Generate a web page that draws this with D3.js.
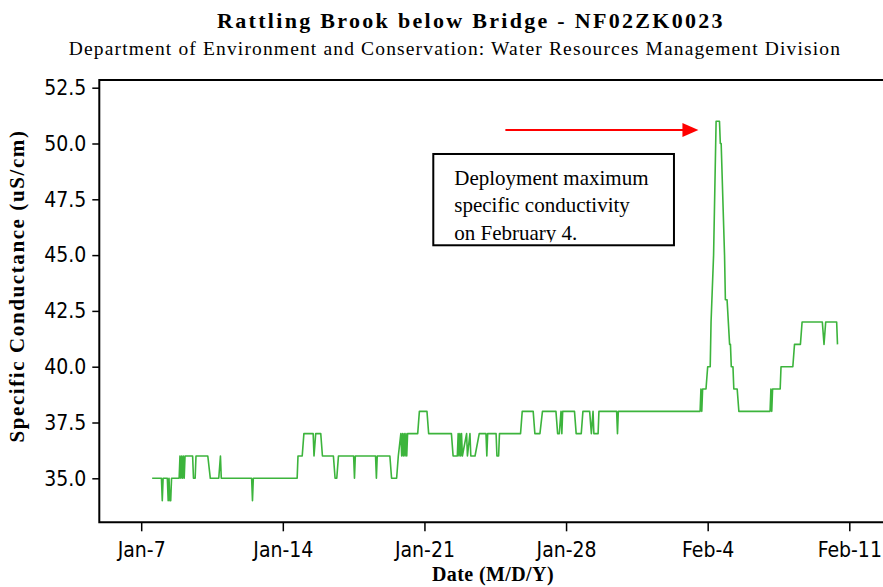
<!DOCTYPE html>
<html>
<head>
<meta charset="utf-8">
<script src="https://cdn.jsdelivr.net/npm/d3@7"></script>
<style>
	body { margin: 0; background: #fff; }
</style>
</head>
<body>
<div id="chart-area"></div>
<script>
// Hourly readings (only the hours where the trace changes), year taken as 2014
var readTimes = [
	"01-07 13:00", "01-08 00:00", "01-08 01:00", "01-08 02:00",
	"01-08 07:00", "01-08 08:00", "01-08 09:00", "01-08 10:00", "01-08 11:00", "01-08 12:00",
	"01-08 21:00", "01-08 22:00", "01-08 23:00", "01-09 00:00", "01-09 01:00", "01-09 02:00", "01-09 03:00", "01-09 04:00",
	"01-09 13:00", "01-09 14:00", "01-09 16:00", "01-09 17:00",
	"01-10 07:00", "01-10 10:00",
	"01-10 20:00", "01-10 22:00", "01-10 23:00",
	"01-12 11:00", "01-12 12:00", "01-12 13:00",
	"01-14 17:00", "01-14 18:00",
	"01-14 23:00", "01-15 01:00",
	"01-15 12:00", "01-15 13:00", "01-15 15:00",
	"01-15 21:00", "01-15 23:00",
	"01-16 12:00", "01-16 14:00", "01-16 16:00", "01-16 18:00",
	"01-17 12:00", "01-17 13:00", "01-17 14:00",
	"01-18 14:00", "01-18 15:00", "01-18 16:00",
	"01-19 07:00", "01-19 09:00",
	"01-19 15:00", "01-19 17:00", "01-19 20:00",
	"01-19 21:00", "01-19 22:00", "01-19 23:00", "01-20 00:00", "01-20 01:00", "01-20 02:00", "01-20 03:00", "01-20 04:00",
	"01-20 16:00", "01-20 18:00",
	"01-21 03:00", "01-21 05:00",
	"01-22 08:00", "01-22 10:00",
	"01-22 15:00", "01-22 16:00", "01-22 17:00", "01-22 18:00", "01-22 19:00", "01-22 20:00", "01-22 21:00",
	"01-23 02:00", "01-23 03:00", "01-23 06:00", "01-23 07:00",
	"01-23 12:00", "01-23 17:00",
	"01-24 01:00", "01-24 02:00", "01-24 03:00",
	"01-24 13:00", "01-24 14:00", "01-24 16:00", "01-24 17:00",
	"01-25 18:00", "01-25 20:00",
	"01-26 09:00", "01-26 11:00", "01-26 17:00", "01-26 20:00",
	"01-27 12:00", "01-27 14:00", "01-27 16:00", "01-27 18:00", "01-27 19:00", "01-27 20:00",
	"01-28 10:00", "01-28 12:00", "01-28 18:00", "01-28 20:00",
	"01-29 04:00", "01-29 06:00", "01-29 08:00", "01-29 09:00", "01-29 14:00", "01-29 15:00",
	"01-30 12:00", "01-30 13:00", "01-30 14:00",
	"02-03 15:00", "02-03 16:00", "02-03 17:00", "02-03 18:00",
	"02-03 22:00", "02-04 00:00",
	"02-04 03:00", "02-04 04:00", "02-04 07:00", "02-04 10:00", "02-04 14:00",
	"02-04 15:00", "02-04 16:00", "02-04 20:00", "02-04 21:00", "02-04 23:00",
	"02-05 02:00", "02-05 03:00", "02-05 04:00", "02-05 06:00", "02-05 07:00", "02-05 11:00", "02-05 13:00",
	"02-07 02:00", "02-07 03:00", "02-07 04:00", "02-07 05:00",
	"02-07 14:00", "02-07 15:00",
	"02-08 05:00", "02-08 07:00",
	"02-08 14:00", "02-08 16:00",
	"02-09 16:00", "02-09 18:00", "02-09 20:00",
	"02-10 09:00", "02-10 10:00"
];

// Specific conductance (uS/cm), same order as readTimes
var readValues = [
	35, 35, 34, 35,
	35, 34, 35, 34, 34, 35,
	35, 36, 35, 36, 35, 36, 35, 36,
	36, 35, 35, 36,
	36, 35,
	35, 36, 35,
	35, 34, 35,
	35, 36,
	36, 37,
	37, 36, 37,
	37, 36,
	36, 35, 35, 36,
	36, 35, 36,
	36, 35, 36,
	36, 35,
	35, 36, 37,
	36, 37, 36, 37, 36, 37, 36, 37,
	37, 38,
	38, 37,
	37, 36,
	36, 37, 36, 37, 36, 37, 36,
	37, 36, 37, 36,
	36, 37,
	37, 36, 37,
	37, 36, 36, 37,
	37, 38,
	38, 37, 37, 38,
	38, 37, 37, 38, 37, 38,
	38, 37, 37, 38,
	38, 37, 38, 37, 37, 38,
	38, 37, 38,
	38, 39, 38, 39,
	39, 40,
	40, 42, 45, 51, 51,
	50, 50, 45, 43, 43,
	41, 41, 40, 40, 39, 39, 38,
	38, 39, 38, 39,
	39, 40,
	40, 41,
	41, 42,
	42, 41, 42,
	42, 41
];

// Axis ticks
var xTicks = ["01-07 00:00", "01-14 00:00", "01-21 00:00", "01-28 00:00", "02-04 00:00", "02-11 00:00"];
var yTicks = [35.0, 37.5, 40.0, 42.5, 45.0, 47.5, 50.0, 52.5];

// Annotation (in data units)
var noteLines = ["Deployment maximum", "specific conductivity", "on February 4."];
var noteBox = {from: "01-21 10:30", to: "02-02 08:00", top: 49.53, bottom: 45.44};
var arrowAt = {from: "01-25 00:00", to: "02-03 13:00", value: 50.6};

var parseT = function(s) { return d3.timeParse("%Y-%m-%d %H:%M")("2014-" + s); };

// Canvas
var canvasWidth = 883;
var canvasHeight = 587;

// Plot frame (right side runs off the canvas)
var frame = {left: 99.3, top: 80, right: 900, bottom: 522.3};

var svg = d3.select("#chart-area")
	.append("svg")
	.attr("width", canvasWidth)
	.attr("height", canvasHeight);

// Scales
var x = d3.scaleTime()
	.domain([parseT(xTicks[0]), parseT(xTicks[xTicks.length - 1])])
	.range([141.2, 849.3]);

var y = d3.scaleLinear()
	.domain([35, 52.5])
	.range([478.3, 87.7]);

// Titles
svg.append("text")
	.attr("x", 471)
	.attr("y", 28)
	.attr("text-anchor", "middle")
	.attr("font-family", "Liberation Serif")
	.attr("font-weight", "bold")
	.attr("font-size", "22px")
	.attr("letter-spacing", "2.3px")
	.text("Rattling Brook below Bridge - NF02ZK0023");

svg.append("text")
	.attr("x", 455)
	.attr("y", 55)
	.attr("text-anchor", "middle")
	.attr("font-family", "Liberation Serif")
	.attr("font-size", "19.5px")
	.attr("letter-spacing", "1.15px")
	.text("Department of Environment and Conservation: Water Resources Management Division");

// Frame
svg.append("path")
	.attr("d", "M" + frame.right + "," + frame.top + "H" + frame.left + "V" + frame.bottom + "H" + frame.right)
	.attr("fill", "none")
	.attr("stroke", "#000")
	.attr("stroke-width", 2);

// X axis
var xAxis = svg.append("g")
	.attr("transform", "translate(0," + frame.bottom + ")")
	.call(d3.axisBottom(x)
		.tickValues(xTicks.map(parseT))
		.tickFormat(d3.timeFormat("%b-%-d"))
		.tickSize(9)
		.tickPadding(11));
xAxis.select(".domain").remove();

// Y axis
var yAxis = svg.append("g")
	.attr("transform", "translate(" + frame.left + ",0)")
	.call(d3.axisLeft(y)
		.tickValues(yTicks)
		.tickFormat(d3.format(".1f"))
		.tickSize(7)
		.tickPadding(6));
yAxis.select(".domain").remove();

svg.selectAll(".tick line")
	.attr("stroke", "#000")
	.attr("stroke-width", 1.5);
svg.selectAll(".tick text")
	.attr("font-family", "DejaVu Sans Condensed")
	.attr("font-size", "21px")
	.attr("fill", "#000");

// Axis labels
svg.append("text")
	.attr("x", 493)
	.attr("y", 581)
	.attr("text-anchor", "middle")
	.attr("font-family", "Liberation Serif")
	.attr("font-weight", "bold")
	.attr("font-size", "20px")
	.attr("letter-spacing", "0.4px")
	.text("Date (M/D/Y)");

svg.append("text")
	.attr("transform", "translate(24,286) rotate(-90)")
	.attr("text-anchor", "middle")
	.attr("font-family", "Liberation Serif")
	.attr("font-weight", "bold")
	.attr("font-size", "21px")
	.attr("letter-spacing", "1.6px")
	.text("Specific Conductance (uS/cm)");

// Data line
var series = readTimes.map(function(t, i) {
	return {date: parseT(t), value: readValues[i]};
});

var line = d3.line()
	.x(function(d) { return x(d.date); })
	.y(function(d) { return y(d.value); });

svg.append("path")
	.datum(series)
	.attr("d", line)
	.attr("fill", "none")
	.attr("stroke", "#3cb43c")
	.attr("stroke-width", 1.6)
	.attr("stroke-linejoin", "round");

// Annotation box
var bx0 = x(parseT(noteBox.from)), bx1 = x(parseT(noteBox.to));
var by0 = y(noteBox.top), by1 = y(noteBox.bottom);

svg.append("clipPath")
	.attr("id", "noteClip")
	.append("rect")
	.attr("x", bx0)
	.attr("y", by0)
	.attr("width", bx1 - bx0)
	.attr("height", by1 - by0 - 3);

svg.append("rect")
	.attr("x", bx0)
	.attr("y", by0)
	.attr("width", bx1 - bx0)
	.attr("height", by1 - by0)
	.attr("fill", "#fff")
	.attr("stroke", "#000")
	.attr("stroke-width", 2);

svg.append("g")
	.attr("clip-path", "url(#noteClip)")
	.selectAll("text")
	.data(noteLines)
	.enter()
	.append("text")
		.attr("x", bx0 + 21)
		.attr("y", function(d, i) { return by0 + 31 + i * 27.5; })
		.attr("font-family", "Liberation Serif")
		.attr("font-size", "21px")
		.text(function(d) { return d; });

// Arrow pointing at the peak
var ax0 = x(parseT(arrowAt.from)), ax1 = x(parseT(arrowAt.to)), ay = y(arrowAt.value);

svg.append("line")
	.attr("x1", ax0)
	.attr("x2", ax1 - 14)
	.attr("y1", ay)
	.attr("y2", ay)
	.attr("stroke", "#ff0000")
	.attr("stroke-width", 2);

svg.append("path")
	.attr("d", "M" + ax1 + "," + ay + "L" + (ax1 - 16) + "," + (ay - 7) + "L" + (ax1 - 16) + "," + (ay + 7) + "Z")
	.attr("fill", "#ff0000");
</script>
</body>
</html>
